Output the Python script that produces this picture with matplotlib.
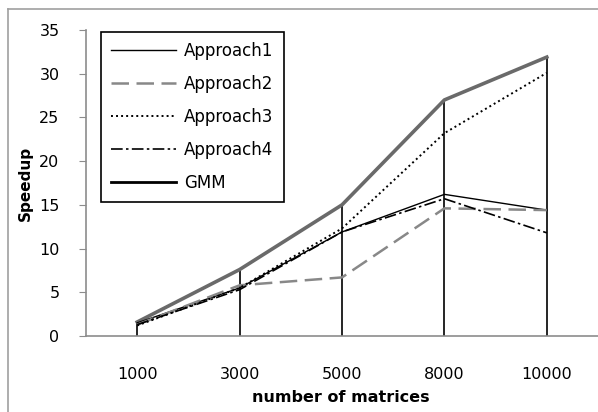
import matplotlib
matplotlib.use('Agg')
import matplotlib.pyplot as plt
from matplotlib.lines import Line2D
import numpy as np

plt.rcParams['font.family'] = ['DejaVu Sans']

# data
matrices = ['1000', '3000', '5000', '8000', '10000']
approach1 = [1.5, 5.5, 11.9, 16.2, 14.4]
approach2 = [1.3, 5.8, 6.7, 14.6, 14.4]
approach3 = [1.2, 5.5, 12.3, 23.2, 30.1]
approach4 = [1.3, 5.3, 11.9, 15.7, 11.8]
gmm = [1.6, 7.6, 15.0, 27.0, 31.9]

W, H = 598, 412
fig = plt.figure(figsize=(W / 100, H / 100), dpi=100)
ax = fig.add_axes([86 / W, 1 - 336 / H, 512 / W, 306 / H])

x = np.arange(len(matrices))

# drop lines from GMM points
ax.vlines(x, 0, gmm, color='black', lw=1.2, zorder=2)

ax.plot(x, gmm, color='#6a6a6a', lw=2.6, label='GMM', zorder=3)
ax.plot(x, approach1, color='black', lw=1.0, label='Approach1', zorder=4)
ax.plot(x, approach2, color='#888888', lw=1.8, ls=(0, (7, 3)), label='Approach2', zorder=4)
ax.plot(x, approach3, color='black', lw=1.4, ls=(0, (1, 1.6)), label='Approach3', zorder=4)
ax.plot(x, approach4, color='black', lw=1.2, ls=(0, (7, 2, 1.5, 2)), label='Approach4', zorder=4)

ax.set_xlim(-0.5, len(matrices) - 0.5)
ax.set_ylim(0, 35)
ax.set_yticks(range(0, 36, 5))
ax.set_xticks(x)
ax.set_xticklabels(matrices)

for s in ['top', 'right']:
    ax.spines[s].set_visible(False)
for s in ['left', 'bottom']:
    ax.spines[s].set_color('#8c8c8c')
    ax.spines[s].set_linewidth(1.2)
ax.tick_params(axis='y', direction='out', length=5, color='#8c8c8c', labelsize=11.5, pad=14)
ax.tick_params(axis='x', length=0, labelsize=11.5, pad=22)

handles, labels = ax.get_legend_handles_labels()
order = [1, 2, 3, 4, 0]
leg = ax.legend([handles[i] for i in order], [labels[i] for i in order],
                loc='upper left', bbox_to_anchor=(101 / W, 1 - 32 / H),
                bbox_transform=fig.transFigure, borderaxespad=0,
                fancybox=False, edgecolor='black', framealpha=1,
                fontsize=12, handlelength=3.9, handletextpad=0.5,
                labelspacing=0.9, borderpad=0.6)
leg.get_frame().set_linewidth(1.2)
for h in leg.get_lines():
    if h.get_label() == 'GMM':
        h.set_color('black')
        h.set_linewidth(2.0)

fig.text(25 / W, 1 - 183 / H, 'Speedup', rotation=90, ha='center', va='center',
         fontsize=11, fontweight='bold')
fig.text(341 / W, 1 - 398 / H, 'number of matrices', ha='center', va='center',
         fontsize=11.5, fontweight='bold')

# outer chart border (top and left visible)
fig.add_artist(Line2D([8 / W, 1], [1 - 9 / H, 1 - 9 / H], transform=fig.transFigure,
                      color='#a0a0a0', lw=1.2))
fig.add_artist(Line2D([8 / W, 8 / W], [0, 1 - 9 / H], transform=fig.transFigure,
                      color='#a0a0a0', lw=1.2))

fig.savefig('out.png', dpi=100)
